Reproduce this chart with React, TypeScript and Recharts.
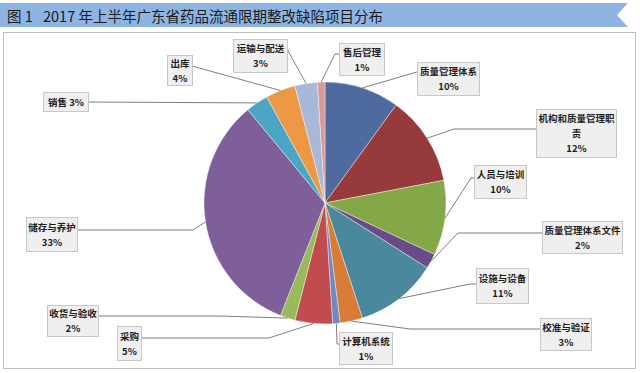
import { PieChart, Pie, Cell } from 'recharts'

// defect categories, clockwise from 12 o'clock
const categories = [
  '质量管理体系', '机构和质量管理职责', '人员与培训', '质量管理体系文件',
  '设施与设备', '校准与验证', '计算机系统', '采购', '收货与验收',
  '储存与养护', '销售', '出库', '运输与配送', '售后管理',
]
const shares = [10, 12, 10, 2, 11, 3, 1, 5, 2, 33, 3, 4, 3, 1]

const sliceColors = [
  '#4E6A9E', '#963A3C', '#84A747', '#684B88', '#4A899D', '#D97C37', '#6F8AC2',
  '#C24B4E', '#98BA5A', '#7F5F9A', '#4BA5C5', '#EC9844', '#AAB8D7', '#D99A98',
]

const figureNo = '图 1'
const title = '2017 年上半年广东省药品流通限期整改缺陷项目分布'

// label boxes + leader line bends (annotation layout, not data)
type LabelBox = {
  x: number; y: number; w: number; h: number
  wrap?: number; inline?: boolean
  path: [number, number][]
}
const labelLayout: LabelBox[] = [
  { x: 417, y: 62, w: 62, h: 33, path: [[417, 72]] },
  { x: 536, y: 109, w: 80, h: 48, wrap: 8, path: [[454, 129], [536, 129]] },
  { x: 474, y: 165, w: 52, h: 33, path: [[471, 178], [474, 178]] },
  { x: 542, y: 221, w: 80, h: 32, path: [[458, 233], [542, 233]] },
  { x: 476, y: 268, w: 52, h: 35, path: [[470, 284], [476, 284]] },
  { x: 540, y: 318, w: 51, h: 32, path: [[410, 329], [540, 329]] },
  { x: 339, y: 332, w: 53, h: 32, path: [[337, 344], [339, 344]] },
  { x: 117, y: 326, w: 24, h: 34, path: [[269, 338], [141, 338]] },
  { x: 47, y: 305, w: 51, h: 31, path: [[219, 316], [98, 316]] },
  { x: 26, y: 217, w: 51, h: 34, path: [[193, 230], [77, 230]] },
  { x: 43, y: 92, w: 45, h: 19, inline: true, path: [[88, 102]] },
  { x: 167, y: 55, w: 25, h: 30, path: [[192, 66]] },
  { x: 233, y: 39, w: 54, h: 33, path: [[287, 49]] },
  { x: 339, y: 43, w: 45, h: 32, path: [[335, 54], [339, 54]] },
]

const data = categories.map((name, i) => ({ name, value: shares[i] }))

const FONT = "'Noto Sans CJK SC', 'Noto Sans', sans-serif"

function chunk(s: string, n: number) {
  const out: string[] = []
  for (let i = 0; i < s.length; i += n) out.push(s.slice(i, i + n))
  return out
}

function renderLabel(props: any) {
  const { cx, cy, midAngle, outerRadius, index } = props
  const box = labelLayout[index]
  const rad = Math.PI / 180
  const sx = cx + outerRadius * Math.cos(-midAngle * rad)
  const sy = cy + outerRadius * Math.sin(-midAngle * rad)
  const pts = [[sx, sy], ...box.path].map((p) => p.join(',')).join(' ')
  const name = categories[index]
  const pct = `${shares[index]}%`
  const lines = box.inline ? [`${name} ${pct}`] : [...chunk(name, box.wrap ?? 10), pct]
  const first = box.y + (box.h - 15 * (lines.length - 1)) / 2
  return (
    <g key={`lbl-${index}`}>
      <polyline points={pts} fill="none" stroke="#7F7F7F" strokeWidth={1} />
      <rect x={box.x + 0.5} y={box.y + 0.5} width={box.w} height={box.h} fill="#EFEFEF" stroke="#C8C8C8" />
      {lines.map((t, i) => (
        <text
          key={i}
          x={box.x + box.w / 2 + 0.5}
          y={first + i * 15}
          textAnchor="middle"
          dominantBaseline="central"
          fontSize={9.5}
          fontWeight={700}
          fontFamily={FONT}
          fill="#1E1E1E"
        >
          {t}
        </text>
      ))}
    </g>
  )
}

export default function App() {
  return (
    <div style={{ position: 'absolute', left: 0, top: 0, width: 640, height: 373, background: '#fff' }}>
      <svg width={640} height={373} style={{ position: 'absolute', left: 0, top: 0 }}>
        <polygon points="0,3 628,3 617,15 628,27 0,27" fill="#8DB4E2" />
        <text x={7} y={15.5} dominantBaseline="central" fontSize={14.5} fontFamily={FONT} fill="#1A1A1A">
          {figureNo}
        </text>
        <text x={43} y={15.5} dominantBaseline="central" fontSize={14.5} fontFamily={FONT} fill="#1A1A1A">
          {title}
        </text>
        <rect x={3.5} y={32.5} width={632} height={336} fill="#fff" stroke="#BFBFBF" />
      </svg>
      <PieChart width={640} height={373} margin={{ top: 0, right: 0, bottom: 0, left: 0 }} style={{ position: 'absolute', left: 0, top: 0 }}>
        <Pie
          data={data}
          dataKey="value"
          nameKey="name"
          cx={325}
          cy={203}
          outerRadius={121}
          startAngle={90}
          endAngle={-270}
          stroke="#ffffff"
          strokeWidth={0.4}
          label={renderLabel}
          labelLine={false}
          isAnimationActive={false}
        >
          {data.map((d, i) => (
            <Cell key={d.name} fill={sliceColors[i]} />
          ))}
        </Pie>
      </PieChart>
    </div>
  )
}
